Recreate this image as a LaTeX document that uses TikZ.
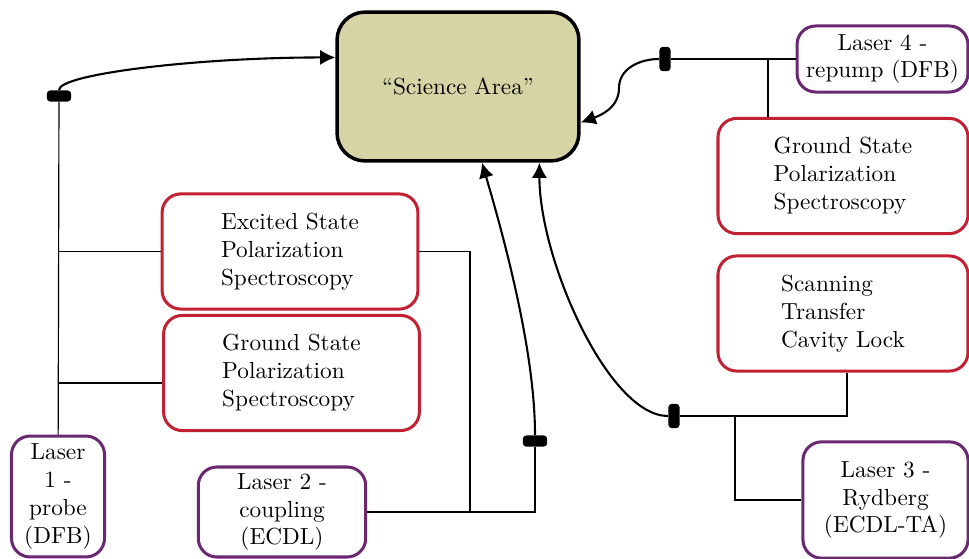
\documentclass[tikz,border=0pt]{standalone}
\usepackage{amsmath}
\usepackage{tikz}
\usetikzlibrary{arrows.meta}
\definecolor{laserpurple}{RGB}{106,40,115}
\definecolor{specred}{RGB}{193,33,50}
\definecolor{sciolive}{RGB}{214,211,164}

\begin{document}
\begin{tikzpicture}[ x=0.43pt , y=0.43pt ,
sciarea/.style={draw, line width=1.5pt, fill=sciolive, rounded corners=12pt, minimum width=104pt, minimum height=64pt},
laser/.style={draw=laserpurple, line width=1.3pt, rounded corners=8pt, align=center, inner sep=1pt},
spec/.style={draw=specred, line width=1.3pt, rounded corners=8pt, align=left, minimum width=110pt, minimum height=49.5pt},
coupler/.style={fill, rounded corners=1.5pt, inner sep=0pt},
wire/.style={line width=0.5pt},
fiber/.style={line width=0.9pt, -{Latex[length=6.5pt,width=6.5pt]}} ]
\useasboundingbox (0,0) rectangle (969,-559);
\node [ sciarea ] (sci) at (458,-86.5) {“Science Area”};
\node [ laser , minimum width=73.5pt , minimum height=28.4pt ] (l_4) at (882.5,-59) {Laser 4 -\\repump (DFB)};
\node [ spec , minimum width=107.5pt ] (gs_r) at (843,-176) {Ground State\\Polarization\\Spectroscopy};
\node [ spec , minimum width=107.5pt ] (stcl) at (843,-313.5) {Scanning\\Transfer\\Cavity Lock};
\node [ laser , minimum width=71pt , minimum height=50pt ] (l_3) at (885.5,-500) {Laser 3 -\\Rydberg\\(ECDL-TA)};
\node [ laser , minimum width=40pt , minimum height=52pt ] (l_1) at (58,-496.5) {Laser\\1 -\\probe\\(DFB)};
\node [ laser , minimum width=72pt , minimum height=38.7pt ] (l_2) at (282,-512) {Laser 2 -\\coupling\\(ECDL)};
\node [ spec ] (ex) at (290,-251.5) {Excited State\\Polarization\\Spectroscopy};
\node [ spec ] (gs_l) at (291.5,-373) {Ground State\\Polarization\\Spectroscopy};
% fibre couplers
\node [ coupler , minimum width=10.5pt , minimum height=4.8pt ] (c_1) at (59,-96) {};
\node [ coupler , minimum width=10.5pt , minimum height=4.8pt ] (c_2) at (535,-441) {};
\node [ coupler , minimum width=4.8pt , minimum height=10.5pt ] (c_3) at (674,-416) {};
\node [ coupler , minimum width=4.8pt , minimum height=10.5pt ] (c_4) at (665,-59) {};
\coordinate (j_2) at (470,-513);
\coordinate (j_3) at (735,-416);
\coordinate (j_4) at (768,-59);
\coordinate (t_1) at (59,-383);
\coordinate (b_4) at (619,-88);
% wiring
\draw [wire] (c_1) -- (l_1);
\draw [wire] (ex.west) -- (ex.west -| c_1);
\draw [wire] (t_1) -- (t_1 -| gs_l.west);
\draw [wire] (ex.east) -| (j_2);
\draw [wire] (l_2.east) -| (c_2);
\draw [wire] (c_3) -| ([xshift=1.7pt]stcl.south);
\draw [wire] (j_3) |- (l_3);
\draw [wire] (c_4) -- (l_4);
\draw [wire] (j_4) -- (j_4 |- gs_r.north);
% fibres
\draw [fiber] (c_1.north) .. controls +(0,16) and +(-137,0) .. ([yshift=12.5pt]sci.west);
\draw [fiber] (c_2.north) .. controls +(0,80) and +(25,-85) .. ([xshift=10.3pt]sci.south);
\draw [fiber] (c_3.west) .. controls +(-59,0) and +(0,-98) .. ([xshift=35pt]sci.south);
\draw [fiber] (c_4.west) to [out=180,in=90] (b_4) to [out=-90,in=20] ([yshift=-15.5pt]sci.east);
\end{tikzpicture}
\end{document}
